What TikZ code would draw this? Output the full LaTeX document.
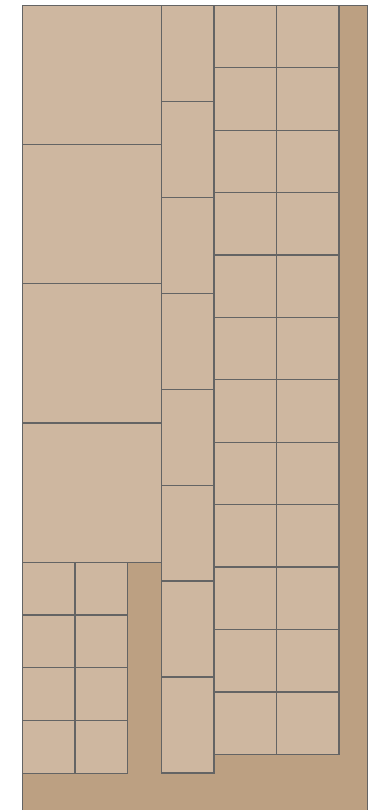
\documentclass[tikz,border=0pt]{standalone}
\begin{document}
\begin{tikzpicture}[x=1pt,y=-1pt,
  ground/.style={fill=groundcol,draw=edgecol,line width=1.2pt},
  slab/.style={fill=slabcol,draw=edgecol,line width=1.2pt}]
\definecolor{groundcol}{RGB}{188,160,130}
\definecolor{slabcol}{RGB}{206,183,160}
\definecolor{edgecol}{RGB}{100,100,100}
\useasboundingbox (0,0) rectangle (368,810);
\clip (0,0) rectangle (368,810);
\draw[ground] (22.3,5.3) rectangle (367.6,830);
% left big slabs
\foreach \i in {0,...,3}{
  \draw[slab] (22.3,{5.3+139.25*\i}) rectangle (161.3,{5.3+139.25*(\i+1)});
}
% small grid bottom left
\foreach \i in {0,...,3}{
  \foreach \j in {0,1}{
    \draw[slab] ({22.3+52.7*\j},{562.3+52.7*\i}) rectangle ({22.3+52.7*(\j+1)},{562.3+52.7*(\i+1)});
  }
}
% middle column
\foreach \i in {0,...,7}{
  \draw[slab] (161.7,{5.3+95.96*\i}) rectangle (214,{5.3+95.96*(\i+1)});
}
% right grid
\foreach \i in {0,...,11}{
  \foreach \j in {0,1}{
    \draw[slab] ({214+62.5*\j},{5.3+62.42*\i}) rectangle ({214+62.5*(\j+1)},{5.3+62.42*(\i+1)});
  }
}
\end{tikzpicture}
\end{document}
